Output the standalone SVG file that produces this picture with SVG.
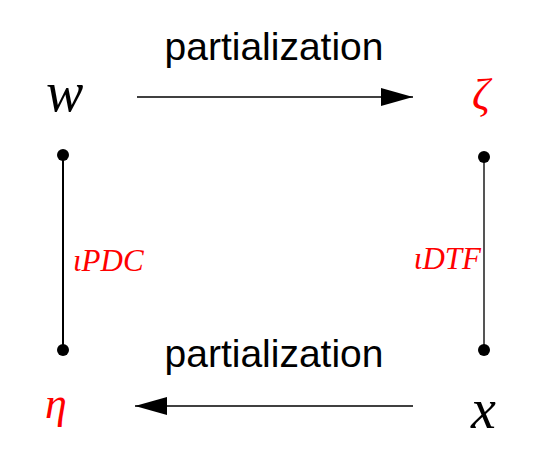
<svg xmlns="http://www.w3.org/2000/svg" width="545" height="462" viewBox="0 0 545 462">
<style>
.lbl{font-family:"Liberation Sans",Arial,sans-serif;font-size:39px;fill:#000}
.var{font-family:"Liberation Serif","Times New Roman",serif;font-style:italic;font-size:56px}
.grk{font-family:"Liberation Serif","Times New Roman",serif;font-style:italic;font-size:44px;fill:#ff0000}
.side{font-family:"Liberation Serif","Times New Roman",serif;font-style:italic;font-size:31px;fill:#ff0000}
.arrow{stroke:#000;stroke-width:1.5;fill:none}
</style>
<defs>
<marker id="ah" viewBox="0 0 32 18" refX="32" refY="9" markerWidth="32" markerHeight="18" markerUnits="userSpaceOnUse" orient="auto">
<path d="M0,0 L32,9 L0,18 Z" fill="#000"/>
</marker>
</defs>
<rect width="545" height="462" fill="#fff"/>
<g id="connectors">
<line class="arrow" x1="137" y1="97" x2="413" y2="97" marker-end="url(#ah)"/>
<line class="arrow" x1="413" y1="406" x2="135" y2="406" marker-end="url(#ah)"/>
<line x1="63" y1="155" x2="63" y2="350" stroke="#000" stroke-width="2"/>
<line x1="484" y1="157" x2="484" y2="350" stroke="#555" stroke-width="2"/>
<circle cx="63" cy="155" r="6" fill="#000"/>
<circle cx="63" cy="350" r="6" fill="#000"/>
<circle cx="484" cy="157" r="6" fill="#000"/>
<circle cx="484" cy="350" r="6" fill="#000"/>
<text class="lbl" x="274" y="60" text-anchor="middle">partialization</text>
<text class="lbl" x="274" y="367" text-anchor="middle">partialization</text>
<text class="side" x="73" y="271">ιPDC</text>
<text class="side" x="481" y="269" text-anchor="end">ιDTF</text>
</g>
<g id="node-w"><text class="var" x="46" y="111">w</text></g>
<g id="node-zeta"><text class="grk" x="472" y="109">ζ</text></g>
<g id="node-eta"><text class="grk" x="45" y="418">η</text></g>
<g id="node-x"><text class="var" x="471" y="428">x</text></g>
</svg>
